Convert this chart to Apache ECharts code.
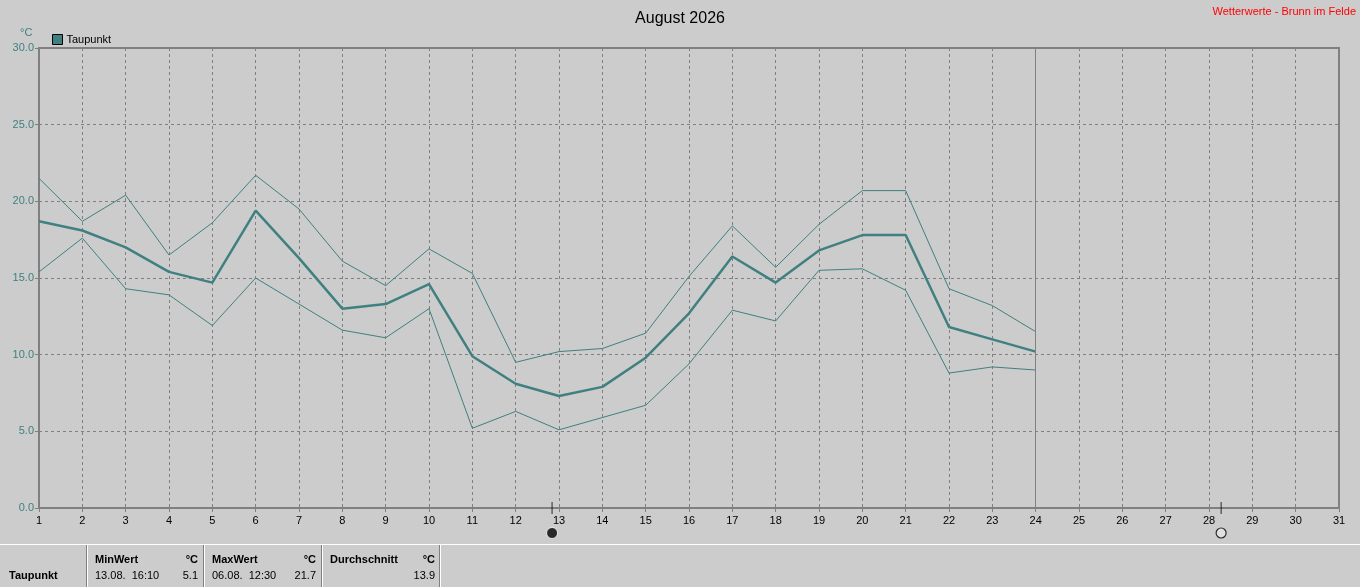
<!DOCTYPE html>
<html>
<head>
<meta charset="utf-8">
<title>Taupunkt August 2026</title>
<script src="https://cdn.jsdelivr.net/npm/echarts@6.0.0/dist/echarts.min.js"></script>
<style>
	html, body { margin: 0; padding: 0; background: #cccccc; }
	#container { width: 1360px; height: 587px; }
</style>
</head>
<body>
<div id="container"></div>
<script>
// Tage im Monat (Achse) und gemessene Tage
var monthDays = 31;
var days = [1, 2, 3, 4, 5, 6, 7, 8, 9, 10, 11, 12, 13, 14, 15, 16, 17, 18, 19, 20, 21, 22, 23, 24];

// Taupunkt in °C: Tagesmittel, Tagesmaximum, Tagesminimum
var dewMean = [18.7, 18.1, 17.0, 15.4, 14.7, 19.4, 16.3, 13.0, 13.3, 14.6, 9.9, 8.1, 7.3, 7.9, 9.8, 12.7, 16.4, 14.7, 16.8, 17.8, 17.8, 11.8, 11.0, 10.2];
var dewMax = [21.5, 18.7, 20.4, 16.5, 18.6, 21.7, 19.5, 16.1, 14.5, 16.9, 15.3, 9.5, 10.2, 10.4, 11.4, 15.1, 18.4, 15.7, 18.5, 20.7, 20.7, 14.3, 13.2, 11.5];
var dewMin = [15.4, 17.6, 14.3, 13.9, 11.9, 15.0, 13.3, 11.6, 11.1, 13.0, 5.2, 6.3, 5.1, 5.9, 6.7, 9.4, 12.9, 12.2, 15.5, 15.6, 14.2, 8.8, 9.2, 9.0];

// heutiger Tag (senkrechte Linie) und Mondphasen (Tag als Kommazahl)
var today = 24;
var moonNew = [12.84];
var moonFull = [28.28];

// Uhrzeiten der Extremwerte
var minTime = '16:10';
var maxTime = '12:30';

var teal = '#408080';
var gray = '#808080';
var font = '"Liberation Sans", Arial, sans-serif';

function pairs(vals) {
	return vals.map(function(v, i) { return [days[i], v]; });
}

function pad2(n) { return (n < 10 ? '0' : '') + n; }

(function() {
	var chart = echarts.init(document.getElementById('container'));

	// Statistik aus den Daten
	var minVal = Math.min.apply(null, dewMin);
	var minDay = days[dewMin.indexOf(minVal)];
	var maxVal = Math.max.apply(null, dewMax);
	var maxDay = days[dewMax.indexOf(maxVal)];
	var avg = dewMean.reduce(function(a, b) { return a + b; }, 0) / dewMean.length;

	var txt = function(x, y, text, opt) {
		opt = opt || {};
		return {
			type: 'text', x: x, y: y, silent: true,
			style: {
				text: text,
				font: (opt.bold ? 'bold ' : '') + '11px ' + font,
				fill: opt.color || '#000',
				textAlign: opt.align || 'left',
				textVerticalAlign: 'middle'
			}
		};
	};
	var vline = function(x, color) {
		return { type: 'line', silent: true, shape: { x1: x, y1: 545, x2: x, y2: 587 }, style: { stroke: color, lineWidth: 1 } };
	};

	var option = {
		animation: false,
		backgroundColor: '#cccccc',
		title: {
			text: 'August ' + 2026,
			left: 'center',
			top: 6,
			textStyle: { fontFamily: font, fontSize: 16, fontWeight: 'normal', color: '#000' }
		},
		legend: {
			left: 47,
			top: 29,
			itemWidth: 10,
			itemHeight: 10,
			itemGap: 4,
			data: [{ name: 'Taupunkt', icon: 'rect', itemStyle: { color: teal, borderColor: '#000', borderWidth: 1 } }],
			textStyle: { fontFamily: font, fontSize: 11, color: '#000', padding: [0, 0, 0, -1] }
		},
		grid: [
			{ left: 39, right: 21, top: 48, bottom: 79, show: true, borderColor: gray, borderWidth: 2, backgroundColor: 'transparent' },
			{ left: 39, right: 21, top: 525, height: 16 }
		],
		xAxis: [{
			type: 'value',
			gridIndex: 0,
			min: 1,
			max: monthDays,
			interval: 1,
			axisLine: { show: true, lineStyle: { color: gray, width: 2 } },
			axisTick: { show: true, length: 4, lineStyle: { color: gray } },
			axisLabel: { color: '#000', fontFamily: font, fontSize: 11, margin: 7 },
			splitLine: { show: true, lineStyle: { color: gray, type: [3, 3], width: 1 } }
		}, {
			type: 'value',
			gridIndex: 1,
			min: 1,
			max: monthDays,
			show: false
		}],
		yAxis: [{
			type: 'value',
			gridIndex: 0,
			min: 0,
			max: 30,
			interval: 5,
			axisLine: { show: true, lineStyle: { color: gray, width: 2 } },
			axisTick: { show: true, length: 4, lineStyle: { color: gray } },
			axisLabel: {
				color: teal, fontFamily: font, fontSize: 11, margin: 5,
				formatter: function(v) { return v.toFixed(1); }
			},
			splitLine: { show: true, lineStyle: { color: gray, type: [3, 3], width: 1 } }
		}, {
			type: 'value',
			gridIndex: 1,
			min: 0,
			max: 1,
			show: false
		}],
		graphic: [
			{
				type: 'text', right: 4, top: 6, silent: true,
				style: { text: 'Wetterwerte - Brunn im Felde', font: '11px ' + font, fill: '#ff0000' }
			},
			{
				type: 'text', x: 20, y: 27, silent: true,
				style: { text: '°C', font: '11px ' + font, fill: teal }
			},
			{
				type: 'group',
				x: 0,
				y: 0,
				children: [
					{ type: 'line', silent: true, shape: { x1: 0, y1: 544.5, x2: 1360, y2: 544.5 }, style: { stroke: '#ffffff', lineWidth: 1 } },
					vline(86.5, gray), vline(87.5, '#ffffff'),
					vline(203.5, gray), vline(204.5, '#ffffff'),
					vline(321.5, gray), vline(322.5, '#ffffff'),
					vline(439.5, gray), vline(440.5, '#ffffff'),
					txt(9, 576, 'Taupunkt', { bold: true }),
					txt(95, 560, 'MinWert', { bold: true }),
					txt(198, 560, '°C', { bold: true, align: 'right' }),
					txt(95, 576, pad2(minDay) + '.08.  ' + minTime),
					txt(198, 576, minVal.toFixed(1), { align: 'right' }),
					txt(212, 560, 'MaxWert', { bold: true }),
					txt(316, 560, '°C', { bold: true, align: 'right' }),
					txt(212, 576, pad2(maxDay) + '.08.  ' + maxTime),
					txt(316, 576, maxVal.toFixed(1), { align: 'right' }),
					txt(330, 560, 'Durchschnitt', { bold: true }),
					txt(435, 560, '°C', { bold: true, align: 'right' }),
					txt(435, 576, avg.toFixed(1), { align: 'right' })
				]
			}
		],
		series: [
			{
				name: 'Taupunkt max',
				type: 'line',
				data: pairs(dewMax),
				showSymbol: false,
				lineStyle: { color: teal, width: 1 },
				itemStyle: { color: teal }
			},
			{
				name: 'Taupunkt min',
				type: 'line',
				data: pairs(dewMin),
				showSymbol: false,
				lineStyle: { color: teal, width: 1 },
				itemStyle: { color: teal }
			},
			{
				name: 'Taupunkt',
				type: 'line',
				data: pairs(dewMean),
				showSymbol: false,
				lineStyle: { color: teal, width: 2.5 },
				itemStyle: { color: teal },
				markLine: {
					silent: true,
					symbol: 'none',
					label: { show: false },
					lineStyle: { color: gray, type: 'solid', width: 1 },
					data: [{ xAxis: today }]
				}
			},
			{
				// Striche der Mondphasen auf der x-Achse
				name: 'Mondstrich',
				type: 'scatter',
				clip: false,
				symbol: 'rect',
				symbolSize: [1, 12],
				itemStyle: { color: '#000' },
				data: moonNew.concat(moonFull).map(function(d) { return [d, 0]; }),
				z: 5
			},
			{
				name: 'Neumond',
				type: 'scatter',
				xAxisIndex: 1,
				yAxisIndex: 1,
				symbol: 'circle',
				symbolSize: 11,
				itemStyle: { color: '#000', borderColor: '#ffffff', borderWidth: 1 },
				data: moonNew.map(function(d) { return [d, 0.5]; })
			},
			{
				name: 'Vollmond',
				type: 'scatter',
				xAxisIndex: 1,
				yAxisIndex: 1,
				symbol: 'circle',
				symbolSize: 10,
				itemStyle: { color: '#e6e6e6', borderColor: '#000', borderWidth: 1.2 },
				data: moonFull.map(function(d) { return [d, 0.5]; })
			}
		]
	};

	chart.setOption(option, true);
})();
</script>
</body>
</html>
